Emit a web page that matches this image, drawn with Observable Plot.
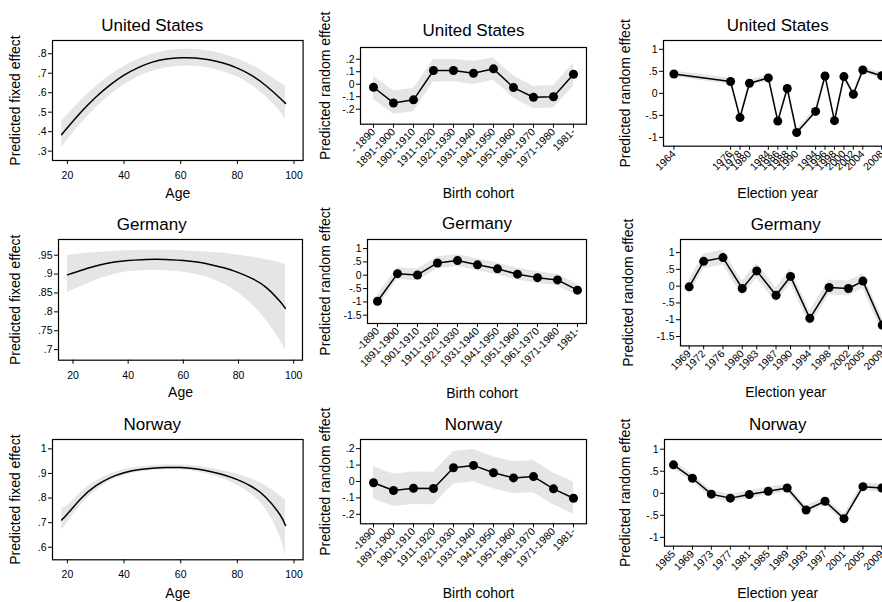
<!DOCTYPE html>
<html>
<head>
<meta charset="utf-8">
<script src="https://cdn.jsdelivr.net/npm/d3@7"></script>
<script src="https://cdn.jsdelivr.net/npm/@observablehq/plot@0.6"></script>
<style>
  html, body { margin: 0; padding: 0; background: #fff; }
  #fig { position: relative; width: 882px; height: 602px; overflow: hidden; background: #fff; }
  #fig svg { position: absolute; overflow: visible; }
</style>
</head>
<body>
<div id="fig"></div>
<script>
// ---- Age (fixed effect) ----
const ages = [18, 20, 25, 30, 35, 40, 45, 50, 55, 60, 65, 70, 75, 80, 85, 90, 95, 97];

const usAgeFit = [.385, .420, .503, .577, .639, .690, .729, .757, .773, .779, .778, .769, .752, .726, .689, .637, .573, .545];
const usAgeLo  = [.32, .357, .445, .522, .587, .64, .681, .71, .728, .736, .736, .727, .708, .68, .638, .58, .505, .46];
const usAgeHi  = [.453, .485, .562, .630, .688, .735, .772, .798, .815, .822, .822, .814, .798, .774, .742, .700, .652, .635];

const deAgeFit = [.898, .903, .915, .925, .932, .936, .938, .939, .938, .936, .932, .925, .916, .904, .888, .865, .828, .809];
const deAgeLo  = [.85, .858, .873, .888, .899, .906, .909, .910, .908, .905, .898, .888, .872, .850, .818, .778, .725, .697];
const deAgeHi  = [.949, .951, .955, .958, .960, .962, .963, .963, .963, .962, .960, .958, .955, .950, .945, .938, .930, .925];

const noAgeFit = [.711, .735, .80, .849, .882, .903, .915, .921, .924, .924, .919, .909, .895, .875, .847, .803, .733, .688];
const noAgeLo  = [.672, .70, .775, .83, .868, .892, .905, .912, .915, .914, .908, .896, .878, .852, .815, .755, .645, .56];
const noAgeHi  = [.76, .77, .825, .868, .897, .915, .926, .931, .934, .934, .930, .922, .911, .897, .877, .85, .81, .79];

// ---- Birth cohort (random effect) ----
const cohortsUS = ["- 1890", "1891-1900", "1901-1910", "1911-1920", "1921-1930", "1931-1940", "1941-1950", "1951-1960", "1961-1970", "1971-1980", "1981-"];
const cohorts   = ["-1890", "1891-1900", "1901-1910", "1911-1920", "1921-1930", "1931-1940", "1941-1950", "1951-1960", "1961-1970", "1971-1980", "1981-"];

const usCohortEst = [-.024, -.15, -.125, .11, .11, .088, .123, -.027, -.104, -.1, .08];
const usCohortLo  = [-.12, -.24, -.22, .018, .02, -.003, .032, -.11, -.194, -.19, -.016];
const usCohortHi  = [.064, -.053, -.035, .197, .197, .184, .21, .066, -.016, -.013, .17];

const deCohortEst = [-.975, .06, .01, .46, .55, .39, .24, .04, -.09, -.175, -.56];
const deCohortLo  = [-1.22, -.16, -.21, .24, .32, .17, .02, -.18, -.31, -.39, -.78];
const deCohortHi  = [-.73, .28, .23, .68, .78, .61, .46, .26, .13, .04, -.34];

const noCohortEst = [-.008, -.055, -.041, -.043, .084, .098, .053, .022, .03, -.045, -.102];
const noCohortLo  = [-.105, -.152, -.14, -.142, -.015, -.002, -.045, -.075, -.068, -.142, -.2];
const noCohortHi  = [.09, .045, .058, .056, .183, .195, .15, .12, .128, .052, -.003];

// ---- Election year (random effect) ----
const usYears   = [1964, 1976, 1978, 1980, 1984, 1986, 1988, 1990, 1994, 1996, 1998, 2000, 2002, 2004, 2008];
const usElecEst = [.44, .27, -.55, .23, .35, -.63, .11, -.89, -.41, .395, -.62, .38, -.02, .53, .40];
const usElecLo  = [.37, .20, -.62, .16, .28, -.70, .04, -.96, -.48, .325, -.69, .31, -.09, .46, .33];
const usElecHi  = [.51, .34, -.48, .30, .42, -.56, .18, -.82, -.34, .465, -.55, .45, .05, .60, .47];

const deYears   = [1969, 1972, 1976, 1980, 1983, 1987, 1990, 1994, 1998, 2002, 2005, 2009];
const deElecEst = [-.02, .74, .85, -.07, .455, -.27, .29, -.96, -.04, -.07, .15, -1.16];
const deElecLo  = [-.24, .52, .63, -.29, .235, -.49, .07, -1.18, -.26, -.29, -.07, -1.38];
const deElecHi  = [.20, .96, 1.07, .15, .675, -.05, .51, -.74, .18, .15, .37, -.94];

const noYears   = [1965, 1969, 1973, 1977, 1981, 1985, 1989, 1993, 1997, 2001, 2005, 2009];
const noElecEst = [.645, .34, -.02, -.11, -.03, .045, .12, -.38, -.18, -.575, .15, .12];
const noElecLo  = [.555, .25, -.11, -.20, -.12, -.045, .03, -.47, -.27, -.675, .06, .03];
const noElecHi  = [.735, .43, .07, -.02, .06, .135, .21, -.29, -.09, -.475, .24, .21];

// ---- tick values ----
const ageTicks = [20, 40, 60, 80, 100];

// ---- drawing ----
const FONT = "'Liberation Sans', Arial, Helvetica, sans-serif";
const BAND = "#e5e5e5";
const ML = 60, MR = 12, MT = 36, MB = 86;
const fmtY = d => String(d).replace(/^(-?)0\./, "$1.");
const fig = document.getElementById("fig");

function rows(xs, est, lo, hi) {
  return xs.map((x, i) => ({x, est: est[i], lo: lo[i], hi: hi[i]}));
}

function panel(p) {
  const width = (p.R - p.L) + ML + MR;
  const height = (p.B - p.T) + MT + MB;
  const data = p.data;
  const curve = p.smooth ? "natural" : "linear";
  const marks = [
    Plot.areaY(data, {x: "x", y1: "lo", y2: "hi", fill: BAND, curve}),
    Plot.lineY(data, {x: "x", y: "est", stroke: "black", strokeWidth: 1.5, curve})
  ];
  if (!p.smooth) marks.push(Plot.dot(data, {x: "x", y: "est", r: 4.5, fill: "black"}));
  marks.push(
    Plot.frame({stroke: "black", strokeWidth: 1.2}),
    Plot.axisY({ticks: p.yTicks, tickFormat: fmtY, tickSize: 4, tickPadding: 2, fontSize: 10.5, label: null}),
    Plot.axisX({
      ticks: p.xTicks,
      tickFormat: p.xFormat,
      tickSize: 4,
      tickPadding: p.rotate ? 2 : 7,
      tickRotate: p.rotate ? -45 : 0,
      fontSize: 10.5,
      label: null
    }),
    Plot.text([p.title], {text: d => d, frameAnchor: "top", dy: -p.titleGap, dx: p.titleDx || 0, fontSize: 17, lineAnchor: "middle"}),
    Plot.text([p.xlabel], {text: d => d, frameAnchor: "bottom", dy: p.xlabelGap, dx: p.xlabelDx || 0, fontSize: 14, lineAnchor: "middle"}),
    Plot.text([p.ylabel], {text: d => d, frameAnchor: "left", dx: -p.ylabelGap, rotate: -90, fontSize: 14, lineAnchor: "middle", textAnchor: "middle"})
  );
  const svg = Plot.plot({
    width, height,
    marginLeft: ML, marginRight: MR, marginTop: MT, marginBottom: MB,
    x: p.x,
    y: {domain: p.yDomain},
    style: {fontFamily: FONT, fontSize: "10.5px", color: "black", background: "transparent", overflow: "visible"},
    marks
  });
  svg.style.left = (p.L - ML) + "px";
  svg.style.top = (p.T - MT) + "px";
  fig.append(svg);
}

const ageX = {type: "linear", domain: [14.75, 103.2]};
const yearFmt = d => String(d);

// Row 1: United States
panel({L: 51.7, R: 302.3, T: 40, B: 160, smooth: true,
  data: rows(ages, usAgeFit, usAgeLo, usAgeHi),
  x: ageX, xTicks: ageTicks, xFormat: yearFmt,
  yDomain: [0.252, 0.868], yTicks: [.3, .4, .5, .6, .7, .8],
  title: "United States", titleGap: 15, titleDx: -25.5,
  xlabel: "Age", xlabelGap: 33, ylabel: "Predicted fixed effect", ylabelGap: 36.7});

panel({L: 360, R: 586, T: 47.3, B: 124, rotate: true,
  data: rows(cohortsUS, usCohortEst, usCohortLo, usCohortHi),
  x: {type: "point", domain: cohortsUS, padding: 0, inset: 9.3},
  yDomain: [-0.32, 0.294], yTicks: [-.2, -.1, 0, .1, .2],
  title: "United States", titleGap: 17,
  xlabel: "Birth cohort", xlabelGap: 69.5, xlabelDx: 5, ylabel: "Predicted random effect", ylabelGap: 35});

panel({L: 663, R: 891.6, T: 40, B: 145.7, rotate: true,
  data: rows(usYears, usElecEst, usElecLo, usElecHi),
  x: {type: "linear", domain: [1961.8, 2010.2]}, xTicks: usYears, xFormat: yearFmt,
  yDomain: [-1.2, 1.2], yTicks: [-1, -.5, 0, .5, 1],
  title: "United States", titleGap: 15,
  xlabel: "Election year", xlabelGap: 47.5, ylabel: "Predicted random effect", ylabelGap: 38});

// Row 2: Germany
panel({L: 58.3, R: 302.3, T: 239.3, B: 360, smooth: true,
  data: rows(ages, deAgeFit, deAgeLo, deAgeHi),
  x: ageX, xTicks: ageTicks, xFormat: yearFmt,
  yDomain: [0.672, 0.9916], yTicks: [.7, .75, .8, .85, .9, .95],
  title: "Germany", titleGap: 14.5, titleDx: -28.8,
  xlabel: "Age", xlabelGap: 32.7, ylabel: "Predicted fixed effect", ylabelGap: 43.3});

panel({L: 367, R: 586, T: 239.3, B: 323.3, rotate: true,
  data: rows(cohorts, deCohortEst, deCohortLo, deCohortHi),
  x: {type: "point", domain: cohorts, padding: 0, inset: 9},
  yDomain: [-1.81, 1.34], yTicks: [-1.5, -1, -.5, 0, .5, 1],
  title: "Germany", titleGap: 16,
  xlabel: "Birth cohort", xlabelGap: 70, xlabelDx: 5, ylabel: "Predicted random effect", ylabelGap: 42});

panel({L: 680, R: 890.4, T: 239.3, B: 345.7, rotate: true,
  data: rows(deYears, deElecEst, deElecLo, deElecHi),
  x: {type: "linear", domain: [1967.2, 2010.8]}, xTicks: deYears, xFormat: yearFmt,
  yDomain: [-1.78, 1.39], yTicks: [-1.5, -1, -.5, 0, .5, 1],
  title: "Germany", titleGap: 14.5,
  xlabel: "Election year", xlabelGap: 47, ylabel: "Predicted random effect", ylabelGap: 51.7});

// Row 3: Norway
panel({L: 51.7, R: 302.3, T: 439, B: 559.3, smooth: true,
  data: rows(ages, noAgeFit, noAgeLo, noAgeHi),
  x: ageX, xTicks: ageTicks, xFormat: yearFmt,
  yDomain: [0.549, 1.038], yTicks: [.6, .7, .8, .9, 1],
  title: "Norway", titleGap: 14.5, titleDx: -25.5,
  xlabel: "Age", xlabelGap: 33.4, ylabel: "Predicted fixed effect", ylabelGap: 36.7});

panel({L: 360, R: 586, T: 439, B: 523.3, rotate: true,
  data: rows(cohorts, noCohortEst, noCohortLo, noCohortHi),
  x: {type: "point", domain: cohorts, padding: 0, inset: 9.3},
  yDomain: [-0.258, 0.256], yTicks: [-.2, -.1, 0, .1, .2],
  title: "Norway", titleGap: 14.5,
  xlabel: "Birth cohort", xlabelGap: 69.4, xlabelDx: 5, ylabel: "Predicted random effect", ylabelGap: 35});

panel({L: 664.3, R: 890.7, T: 439, B: 545.7, rotate: true,
  data: rows(noYears, noElecEst, noElecLo, noElecHi),
  x: {type: "linear", domain: [1963.1, 2010.9]}, xTicks: noYears, xFormat: yearFmt,
  yDomain: [-1.2, 1.22], yTicks: [-1, -.5, 0, .5, 1],
  title: "Norway", titleGap: 14.5,
  xlabel: "Election year", xlabelGap: 47, ylabel: "Predicted random effect", ylabelGap: 39});
</script>
</body>
</html>
